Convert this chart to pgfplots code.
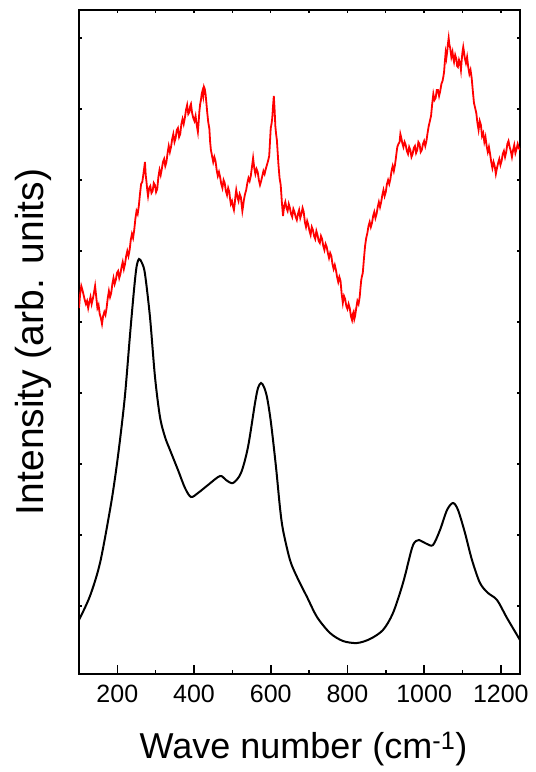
\documentclass[border=0pt]{standalone}
\usepackage{pgfplots}
\pgfplotsset{compat=1.18}
\usepackage{fontspec}
\setmainfont{Liberation Sans}
\begin{document}
\begin{tikzpicture}
\begin{axis}[
  scale only axis, width=441pt, height=664pt,
  xmin=100, xmax=1250, ymin=0, ymax=664,
  axis line style={line width=2pt},
  xtick={200,400,...,1200}, minor xtick={300,500,...,1100},
  xtick pos=bottom, ytick=\empty,
  tick align=inside,
  major tick length=9pt, minor tick length=4.5pt,
  every tick/.style={black, line width=1.6pt},
  /pgf/number format/assume math mode=true,
  /pgf/number format/set thousands separator={},
  xticklabel style={font=\fontsize{25}{29}\selectfont, yshift=-8pt},
  xlabel={Wave number (cm\textsuperscript{-1})},
  xlabel style={font=\fontsize{36}{40}\selectfont, at={(axis description cs:0.509,-0.113)}, anchor=center},
  ylabel={Intensity (arb. units)},
  ylabel style={font=\fontsize{39}{44}\selectfont, at={(axis description cs:-0.104,0.5)}, anchor=center},
]
\addplot[black, line width=2pt, smooth, tension=0.5] coordinates {
(100,54) (128.7,78) (154.8,111) (180.8,164) (193.9,196) (206.9,234) (220.0,279) (233.0,339) (243.4,384) (250.0,407) (256.5,415) (264.3,411) (272.1,400) (285.1,357) (298.2,297) (311.2,257) (324.3,237) (337.3,224) (358.2,204) (376.4,186) (392.1,177) (410.3,181) (436.4,189) (467.7,198) (483.3,194) (501.6,191) (522.4,201) (540.7,227) (559.0,271) (566.8,286) (574.6,291) (582.4,287) (590.7,276) (600.7,251) (613.7,207) (624.2,166) (632.0,144) (650.2,114) (668.5,97) (694.6,77) (720.7,57) (754.6,41) (788.4,33) (825.0,31) (858.8,35) (892.7,44) (918.8,61) (944.9,91) (968.4,126) (978.8,133) (986.6,134) (997.1,132) (1007.5,130) (1023.2,129) (1041.4,144) (1059.7,164) (1075.3,171) (1088.4,164) (1106.6,141) (1124.8,114) (1145.7,91) (1166.6,81) (1190.1,74) (1216.1,56) (1250,34)
};
\addplot[red, line width=1.8pt] coordinates {
(100,366) (103,380) (106,388) (109,384) (112,379) (115,374) (118,370) (121,373) (124,366) (127,372) (130,377) (133,370) (136,375) (139,381) (142,388) (145,377) (148,366) (151,369) (154,360) (157,356) (160,350) (163,358) (166,362) (169,359) (172,366) (175,376) (178,383) (181,377) (184,381) (187,390) (190,396) (193,390) (196,394) (199,401) (202,403) (205,396) (208,400) (211,407) (214,412) (217,405) (220,410) (223,418) (226,423) (229,418) (232,424) (235,434) (238,440) (241,436) (244,444) (247,455) (250,463) (253,460) (256,468) (259,480) (262,490) (265,492) (268,500) (270,506) (272,512) (274,499) (276,492) (278,484) (280,478) (283,486) (286,488) (289,481) (292,483) (295,491) (298,489) (301,482) (304,485) (307,497) (310,504) (313,499) (316,505) (319,512) (322,515) (325,508) (328,512) (331,521) (334,528) (337,522) (340,527) (343,535) (346,540) (349,532) (352,536) (355,544) (358,546) (361,537) (364,540) (367,550) (370,555) (373,550) (376,556) (379,564) (382,569) (385,560) (388,562) (390,568) (392,570) (395,561) (398,556) (401,553) (404,558) (407,549) (410,542) (412,552) (414,563) (416,570) (418,574) (420,580) (422,583) (424,578) (426,587) (428,585) (430,580) (432,572) (434,563) (437,552) (440,545) (442,532) (444,524) (447,518) (450,512) (453,517) (456,513) (459,504) (462,498) (465,502) (468,497) (471,490) (474,486) (477,494) (480,491) (483,483) (486,479) (489,486) (492,482) (494,475) (496,470) (499,473) (502,467) (504,464) (506,470) (508,478) (510,484) (513,477) (516,473) (519,480) (522,477) (524,470) (526,463) (528,468) (530,474) (533,480) (536,484) (539,491) (542,496) (545,493) (548,498) (551,507) (554,516) (557,506) (560,500) (563,505) (566,502) (569,494) (572,489) (575,493) (578,498) (581,503) (584,500) (587,505) (590,509) (593,513) (596,518) (598,532) (600,546) (602,550) (604,556) (606,568) (608,578) (610,565) (612,548) (614,540) (616,534) (618,522) (620,510) (623,496) (626,489) (629,472) (632,458) (635,468) (638,472) (641,466) (644,463) (647,470) (650,466) (653,460) (656,457) (659,465) (662,462) (665,457) (668,454) (671,460) (674,464) (677,456) (680,460) (683,466) (686,462) (689,452) (692,447) (695,453) (698,449) (701,443) (704,439) (707,447) (710,444) (713,438) (716,435) (719,443) (722,439) (725,433) (728,431) (731,438) (734,435) (737,428) (740,424) (743,430) (746,427) (749,421) (752,416) (755,421) (758,418) (761,410) (764,405) (767,409) (770,404) (773,397) (776,392) (779,397) (782,393) (785,380) (788,371) (791,378) (794,375) (797,368) (800,365) (803,370) (806,366) (809,358) (812,354) (814,360) (816,362) (818,355) (820,358) (823,366) (826,373) (829,370) (832,377) (834,386) (836,394) (838,398) (840,401) (843,415) (846,428) (849,436) (852,441) (855,448) (858,452) (861,447) (864,451) (867,458) (870,462) (873,456) (876,460) (879,467) (882,472) (885,467) (888,472) (891,479) (894,484) (897,478) (900,482) (903,490) (906,494) (909,490) (912,495) (915,503) (918,508) (921,503) (924,509) (927,518) (930,527) (933,530) (936,532) (938,540) (940,537) (943,531) (946,527) (949,532) (952,529) (955,523) (958,520) (961,527) (964,524) (967,517) (970,520) (973,526) (976,528) (979,521) (982,524) (985,532) (988,530) (991,522) (994,524) (997,530) (1000,533) (1003,528) (1006,533) (1009,541) (1012,548) (1015,553) (1018,558) (1021,570) (1024,580) (1027,574) (1030,576) (1033,584) (1036,584) (1039,578) (1042,583) (1045,590) (1048,593) (1050,597) (1052,602) (1054,612) (1056,621) (1058,616) (1060,622) (1062,630) (1064,636) (1066,629) (1068,626) (1071,617) (1074,622) (1076,616) (1078,612) (1081,619) (1084,615) (1086,608) (1088,607) (1091,614) (1094,610) (1096,604) (1098,614) (1100,622) (1102,627) (1104,622) (1106,616) (1109,611) (1112,617) (1115,607) (1118,600) (1121,604) (1124,596) (1127,583) (1130,571) (1133,566) (1136,561) (1139,551) (1142,544) (1145,553) (1148,549) (1151,538) (1154,541) (1157,532) (1160,537) (1163,528) (1166,522) (1169,527) (1172,520) (1175,512) (1178,506) (1181,512) (1184,508) (1187,500) (1190,506) (1193,511) (1196,515) (1199,509) (1202,513) (1205,520) (1208,523) (1211,517) (1214,522) (1217,530) (1220,533) (1223,527) (1226,523) (1229,517) (1232,524) (1235,529) (1238,521) (1241,525) (1244,530) (1247,526) (1250,524)
};
\end{axis}
\begin{axis}[
  scale only axis, width=441pt, height=664pt,
  xmin=100, xmax=1250, ymin=0, ymax=664,
  axis line style={draw=none},
  xtick={200,300,...,1200}, ytick={68,139,210,281,352,423,494,565,636},
  xticklabels={}, yticklabels={},
  xtick pos=top, ytick pos=both, tick align=inside,
  major tick length=3pt,
  every tick/.style={black, line width=1.4pt},
]
\end{axis}
\path ([xshift=-79pt,yshift=-98pt]current axis.south west) rectangle ([xshift=16pt,yshift=10pt]current axis.north east);
\end{tikzpicture}
\end{document}
